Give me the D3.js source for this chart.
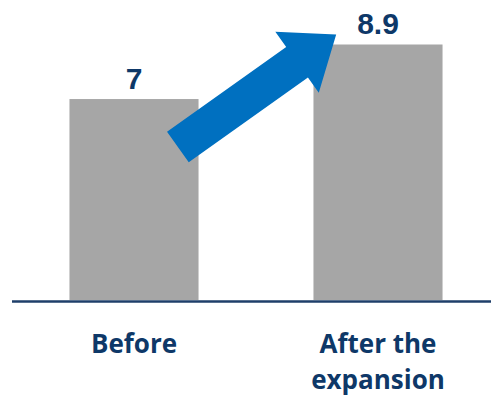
<!DOCTYPE html>
<html><head><meta charset="utf-8">
<script src="https://cdn.jsdelivr.net/npm/d3@7"></script>
<style>body{margin:0;background:#fff}svg{display:block}</style>
</head><body>
<script>
const categories = ["Before", "After the expansion"];
const categoryLines = [["Before"], ["After the", "expansion"]];
const values = [7, 8.9];
const valueLabels = ["7", "8.9"];

const W = 491, H = 398;
const svg = d3.select("body").append("svg").attr("width", W).attr("height", H);
const x = d3.scaleBand().domain(categories).range([12, 500]).paddingInner(0.471).paddingOuter(0.2355);
const y = d3.scaleLinear().domain([0, 10.45]).range([300, 0]);
const navy = "#0E3868";

svg.selectAll("rect.bar").data(values).join("rect").attr("class","bar")
  .attr("x", (d,i)=>x(categories[i])).attr("width", x.bandwidth())
  .attr("y", d=>y(d)).attr("height", d=>y(0)-y(d)).attr("fill", "#A6A6A6");

svg.append("line").attr("x1",12).attr("x2",W).attr("y1",y(0)+1.5).attr("y2",y(0)+1.5)
  .attr("stroke","#1F3F6A").attr("stroke-width",2.5);

svg.selectAll("text.val").data(values).join("text").attr("class","val")
  .attr("x",(d,i)=>x(categories[i])+x.bandwidth()/2).attr("y", d=>y(d)-10)
  .attr("text-anchor","middle").attr("font-family","Liberation Sans, Arial, sans-serif")
  .attr("font-weight","bold").attr("font-size",30).attr("fill",navy).text((d,i)=>valueLabels[i]);

categoryLines.forEach((lines,i)=>{
  lines.forEach((t,j)=>{
    svg.append("text").attr("x", x(categories[i])+x.bandwidth()/2).attr("y", 353+j*36)
      .attr("text-anchor","middle").attr("font-family","Open Sans, sans-serif")
      .attr("font-weight","bold").attr("font-size",26).attr("fill",navy).text(t);
  });
});

// arrow annotation from bar 1 to bar 2
const tail = [x(categories[0]) + x.bandwidth()*0.84, y(5.33)];
const tip = [x(categories[1]) + x.bandwidth()*0.176, y(9.25)];
const shaftW = 37.5, headW = 75, headL = 48;
const dx = tip[0]-tail[0], dy = tip[1]-tail[1], L = Math.hypot(dx,dy);
const ux = dx/L, uy = dy/L, nx = -uy, ny = ux;
const hb = [tip[0]-ux*headL, tip[1]-uy*headL];
const pt = (p,s)=>[p[0]+nx*s, p[1]+ny*s];
const pts = [pt(tail, shaftW/2), pt(hb, shaftW/2), pt(hb, headW/2), tip, pt(hb,-headW/2), pt(hb,-shaftW/2), pt(tail,-shaftW/2)];
svg.append("path").attr("d", d3.line()(pts)+"Z").attr("fill","#0070C0");
</script>
</body></html>
